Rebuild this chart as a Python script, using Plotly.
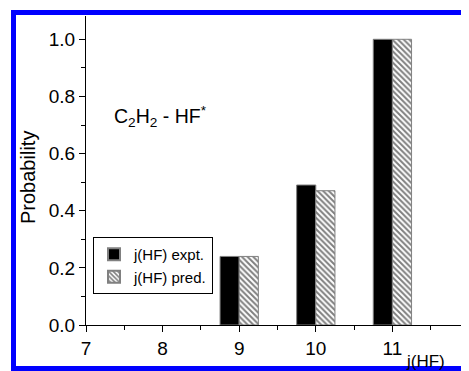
import plotly.graph_objects as go

# data
j_levels = [9, 10, 11]
expt = [0.24, 0.49, 1.0]
pred = [0.24, 0.47, 1.0]
x_ticks = [7, 8, 9, 10, 11, 12]
y_ticks = [0.0, 0.2, 0.4, 0.6, 0.8, 1.0]
y_tick_text = ["0.0", "0.2", "0.4", "0.6", "0.8", "1.0"]

# page has an 8px body margin; figure coordinates are page coordinates minus 8
OFF = 8
W, H = 469 - OFF, 371 - OFF
L, R = 86 - OFF, 0
T = 16 - OFF
B = H - (325 - OFF)
pw, ph = W - L - R, H - T - B

def px(xp):  # page pixel -> paper x
    return (xp - OFF - L) / pw

def py(yp):  # page pixel -> paper y
    return (H - B - (yp - OFF)) / ph

FONT = "Arial, Liberation Sans, sans-serif"
BLUE = "#0000ff"

fig = go.Figure()
fig.add_trace(go.Bar(
    x=j_levels, y=expt, name="j(HF) expt.",
    marker=dict(color="black", line=dict(color="#808080", width=1)),
))
fig.add_trace(go.Bar(
    x=j_levels, y=pred, name="j(HF) pred.",
    marker=dict(color="white", line=dict(color="#808080", width=1),
                pattern=dict(shape="\\", fgcolor="black", bgcolor="white",
                             size=4, solidity=0.5)),
))

fig.update_layout(
    width=W, height=H,
    margin=dict(l=L, r=R, t=T, b=B, pad=0),
    paper_bgcolor="white", plot_bgcolor="white",
    barmode="group", bargap=0.5, bargroupgap=0,
    font=dict(family=FONT, size=19, color="black"),
    showlegend=True,
    legend=dict(
        x=px(93), y=py(237), xanchor="left", yanchor="top",
        bgcolor="white", bordercolor="black", borderwidth=1,
        font=dict(family=FONT, size=15, color="black"),
        tracegroupgap=0, itemsizing="constant",
    ),
    xaxis=dict(
        range=[7, 12], tickvals=x_ticks, ticktext=[str(v) for v in x_ticks],
        showline=True, linecolor="black", linewidth=1.3,
        ticks="outside", ticklen=6, tickwidth=1.3, tickcolor="black",
        minor=dict(dtick=0.5, ticks="outside", ticklen=4, tickwidth=1.3, tickcolor="black"),
        showgrid=False, zeroline=False,
        tickfont=dict(family=FONT, size=19),
    ),
    yaxis=dict(
        range=[0, 1.0815], tickvals=y_ticks, ticktext=y_tick_text,
        showline=True, linecolor="black", linewidth=1.3,
        ticks="outside", ticklen=6, tickwidth=1.3, tickcolor="black",
        minor=dict(dtick=0.1, ticks="outside", ticklen=4, tickwidth=1.3, tickcolor="black"),
        showgrid=False, zeroline=False,
        tickfont=dict(family=FONT, size=19),
    ),
    annotations=[
        dict(text="C<sub>2</sub>H<sub>2</sub> - HF<sup>*</sup>", xref="paper", yref="paper",
             x=px(112), y=py(116), xanchor="left", yanchor="middle", showarrow=False,
             font=dict(family=FONT, size=19.5)),
        dict(text="Probability", xref="paper", yref="paper", textangle=-90,
             x=px(28), y=py(178), xanchor="center", yanchor="middle", showarrow=False,
             font=dict(family=FONT, size=20)),
        dict(text="j(HF)", xref="paper", yref="paper",
             x=px(425), y=py(361), xanchor="center", yanchor="middle", showarrow=False,
             font=dict(family=FONT, size=17)),
    ],
    shapes=[
        # top edge of blue frame
        dict(type="line", xref="paper", yref="paper",
             x0=px(11), x1=px(469), y0=py(12.5), y1=py(12.5),
             line=dict(color=BLUE, width=5), layer="above"),
        # left edge
        dict(type="line", xref="paper", yref="paper",
             x0=px(13.5), x1=px(13.5), y0=py(10), y1=py(371),
             line=dict(color=BLUE, width=5), layer="above"),
        # bottom edge
        dict(type="line", xref="paper", yref="paper",
             x0=px(11), x1=px(469), y0=py(368.5), y1=py(368.5),
             line=dict(color=BLUE, width=5), layer="above"),
    ],
)

fig.write_html("out.html")
